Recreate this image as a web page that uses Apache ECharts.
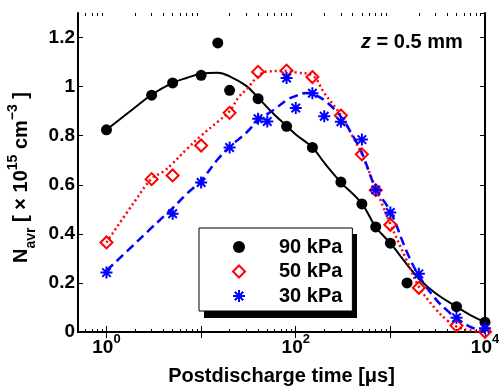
<!DOCTYPE html>
<html><head><meta charset="utf-8">
<script src="https://cdn.jsdelivr.net/npm/echarts@6/dist/echarts.min.js"></script>
<style>html,body{margin:0;padding:0;background:#fff}#c{width:499px;height:386px}</style>
</head><body><div id="c"></div>
<script>
// measured points (time in microseconds, density in 1e15 cm^-3)
const t90 = [1,3,5,10,15,20,40,80,150,300,500,700,1000,1500,5000,10000];
const n90 = [0.824,0.965,1.015,1.046,1.178,0.985,0.951,0.838,0.752,0.611,0.522,0.428,0.362,0.200,0.103,0.040];
const t50 = [1,3,5,10,20,40,80,150,300,500,700,1000,2000,5000,10000];
const n50 = [0.365,0.623,0.638,0.760,0.893,1.060,1.065,1.039,0.882,0.724,0.578,0.437,0.180,0.026,0.001];
const t30 = [1,5,10,20,40,50,80,100,150,200,300,500,700,1000,2000,5000,10000];
const n30 = [0.242,0.482,0.609,0.752,0.869,0.858,1.035,0.913,0.973,0.879,0.857,0.784,0.579,0.487,0.237,0.058,0.015];
// fitted curves
const ft90 = [1,2,3,5,7,10,15,20,30,40,60,80,100,150,200,300,500,700,1000,1500,2000,3000,5000,7000,10000];
const fn90 = [0.824,0.915,0.967,1.015,1.035,1.052,1.056,1.042,1.003,0.955,0.884,0.840,0.805,0.752,0.690,0.610,0.523,0.428,0.362,0.275,0.217,0.158,0.103,0.069,0.040];
const ft50 = [1,2,3,4,5,7,10,15,20,25,30,40,50,80,100,150,200,300,400,500,700,1000,1500,2000,3000,4000,5000,7000,10000];
const fn50 = [0.365,0.534,0.625,0.654,0.687,0.744,0.800,0.857,0.900,0.958,0.988,1.042,1.062,1.064,1.058,1.045,0.974,0.884,0.796,0.725,0.585,0.440,0.289,0.185,0.094,0.047,0.022,0.006,0.0];
const ft30 = [1,2,3,5,7,10,15,20,30,40,60,80,100,130,150,200,300,400,500,700,1000,1500,2000,3000,4000,5000,7000,10000];
const fn30 = [0.250,0.360,0.425,0.505,0.562,0.617,0.704,0.754,0.812,0.862,0.908,0.945,0.962,0.974,0.970,0.945,0.877,0.800,0.730,0.585,0.491,0.325,0.230,0.135,0.087,0.056,0.021,0.0];
const seriesNames = ['90 kPa','50 kPa','30 kPa'];
// axis ticks
const xMajorTicks = [1,10,100,1000,10000];
const xMinorTicks = [0.6,0.7,0.8,0.9,2,3,4,5,6,7,8,9,20,30,40,50,60,70,80,90,200,300,400,500,600,700,800,900,2000,3000,4000,5000,6000,7000,8000,9000];
const xLabelValues = [1,100,10000];
const xLabelExps = ['0','2','4'];

const pairs = (t, n) => t.map((v, i) => [v, n[i]]);
const FONT = "'Liberation Sans', Arial, sans-serif";
const starPath = 'path://M0,-10L0,10M-10,0L10,0M-7.07,-7.07L7.07,7.07M-7.07,7.07L7.07,-7.07';

function xLabelFmt(v) {
  let k = 0, best = 1e9;
  xLabelValues.forEach((x, i) => { const d = Math.abs(Math.log10(x) - Math.log10(v)); if (d < best) { best = d; k = i; } });
  return '{b|10}{s|' + xLabelExps[k] + '}';
}

const wideBounds = { left: -100, top: -100, right: -100, bottom: -100 };
const axisLineStyle = { color: '#000', width: 2 };
const chart = echarts.init(document.getElementById('c'), null, { renderer: 'canvas' });
chart.setOption({
  animation: false,
  backgroundColor: '#fff',
  textStyle: { fontFamily: FONT },
  grid: [
    { left: 78, right: 14, top: 13, bottom: 54, outerBounds: wideBounds },
    { left: 78, right: 14, top: 13, bottom: 54, outerBounds: wideBounds }
  ],
  title: {
    text: '{i|z} = 0.5 mm',
    left: 361, top: 32, padding: 0,
    textStyle: { fontSize: 20, fontWeight: 'bold', color: '#000', fontFamily: FONT,
      rich: { i: { fontSize: 20, fontWeight: 'bold', fontStyle: 'italic', color: '#000', fontFamily: FONT } } }
  },
  graphic: [
    { type: 'rect', z: 50, silent: true, shape: { x: 204, y: 234, width: 153, height: 84 }, style: { fill: '#000' } }
  ],
  xAxis: [
    { gridIndex: 0, type: 'log', logBase: 10, min: 0.5, max: 10000, position: 'bottom',
      axisLine: { show: true, lineStyle: axisLineStyle },
      axisTick: { show: true, inside: true, length: 6, customValues: xMajorTicks, lineStyle: { color: '#000', width: 1 } },
      axisLabel: { show: true, customValues: xLabelValues, margin: 1, formatter: xLabelFmt, color: '#000',
        rich: {
          b: { fontSize: 19, fontWeight: 'bold', color: '#000', fontFamily: FONT, lineHeight: 30 },
          s: { fontSize: 13, fontWeight: 'bold', color: '#000', fontFamily: FONT, lineHeight: 13, verticalAlign: 'top' }
        } },
      splitLine: { show: false }, minorTick: { show: false },
      name: 'Postdischarge time [μs]', nameLocation: 'middle', nameGap: 34,
      nameTextStyle: { fontSize: 20, fontWeight: 'bold', color: '#000', fontFamily: FONT } },
    { gridIndex: 0, type: 'log', logBase: 10, min: 0.5, max: 10000, position: 'top',
      axisLine: { show: true, lineStyle: axisLineStyle },
      axisTick: { show: true, inside: true, length: 6, customValues: xMajorTicks, lineStyle: { color: '#000', width: 1 } },
      axisLabel: { show: false }, splitLine: { show: false } },
    { gridIndex: 1, type: 'log', logBase: 10, min: 0.5, max: 10000, position: 'bottom',
      axisLine: { show: false },
      axisTick: { show: true, inside: true, length: 3, customValues: xMinorTicks, lineStyle: { color: '#000', width: 1 } },
      axisLabel: { show: false }, splitLine: { show: false } },
    { gridIndex: 1, type: 'log', logBase: 10, min: 0.5, max: 10000, position: 'top',
      axisLine: { show: false },
      axisTick: { show: true, inside: true, length: 3, customValues: xMinorTicks, lineStyle: { color: '#000', width: 1 } },
      axisLabel: { show: false }, splitLine: { show: false } }
  ],
  yAxis: [
    { gridIndex: 0, type: 'value', min: 0, max: 1.3, interval: 0.2, position: 'left',
      axisLine: { show: true, lineStyle: axisLineStyle },
      axisTick: { show: true, inside: true, length: 5, lineStyle: { color: '#000', width: 1 } },
      axisLabel: { show: true, margin: 3, showMaxLabel: false, fontSize: 19, fontWeight: 'bold', color: '#000', fontFamily: FONT },
      splitLine: { show: false },
      name: '{n|N}{sub|avr}{n| [ × 10}{sup|15}{n| cm}{sup|−3}{n| ]}',
      nameLocation: 'middle', nameRotate: 90, nameGap: 38,
      nameTextStyle: { fontSize: 20, fontWeight: 'bold', color: '#000', fontFamily: FONT, padding: [0, 10, 0, 0],
        rich: {
          n: { fontSize: 20, fontWeight: 'bold', color: '#000', fontFamily: FONT, lineHeight: 32 },
          sub: { fontSize: 14, fontWeight: 'bold', color: '#000', fontFamily: FONT, lineHeight: 24, verticalAlign: 'bottom' },
          sup: { fontSize: 14, fontWeight: 'bold', color: '#000', fontFamily: FONT, lineHeight: 14, verticalAlign: 'top' }
        } } },
    { gridIndex: 0, type: 'value', min: 0, max: 1.3, interval: 0.2, position: 'right',
      axisLine: { show: true, lineStyle: axisLineStyle },
      axisTick: { show: true, inside: true, length: 5, lineStyle: { color: '#000', width: 1 } },
      axisLabel: { show: false }, splitLine: { show: false } },
    { gridIndex: 1, type: 'value', min: 0, max: 1.3, show: false, splitLine: { show: false } }
  ],
  legend: {
    data: seriesNames, z: 60,
    orient: 'vertical', left: 199, top: 228,
    padding: [9, 10, 5, 33], itemGap: 4.5, itemWidth: 12, itemHeight: 12,
    selectedMode: false,
    backgroundColor: '#fff', borderColor: '#000', borderWidth: 1, borderRadius: 0,
    textStyle: { fontSize: 20, fontWeight: 'bold', color: '#000', fontFamily: FONT, lineHeight: 20, padding: [0, 0, 0, 29] }
  },
  series: [
    { name: 'fit90', type: 'line', xAxisIndex: 0, yAxisIndex: 0, data: pairs(ft90, fn90), smooth: 0.4,
      showSymbol: false, symbol: 'none', lineStyle: { color: '#000', width: 2 }, z: 2 },
    { name: 'fit50', type: 'line', xAxisIndex: 0, yAxisIndex: 0, data: pairs(ft50, fn50), smooth: 0.4,
      showSymbol: false, symbol: 'none', lineStyle: { color: '#ff0000', width: 2.5, type: [2, 3] }, z: 2 },
    { name: 'fit30', type: 'line', xAxisIndex: 0, yAxisIndex: 0, data: pairs(ft30, fn30), smooth: 0.4,
      showSymbol: false, symbol: 'none', lineStyle: { color: '#0000ff', width: 2.5, type: [9, 5] }, z: 2 },
    { name: seriesNames[0], type: 'scatter', xAxisIndex: 0, yAxisIndex: 0, data: pairs(t90, n90), clip: false,
      symbol: 'circle', symbolSize: 11, itemStyle: { color: '#000', opacity: 1 }, z: 3 },
    { name: seriesNames[1], type: 'scatter', xAxisIndex: 0, yAxisIndex: 0, data: pairs(t50, n50), clip: false,
      symbol: 'diamond', symbolSize: 12, itemStyle: { color: 'rgba(0,0,0,0)', borderColor: '#ff0000', borderWidth: 2, opacity: 1 }, z: 3 },
    { name: seriesNames[2], type: 'scatter', xAxisIndex: 0, yAxisIndex: 0, data: pairs(t30, n30), clip: false,
      symbol: starPath, symbolSize: 12, itemStyle: { color: '#0000ff', borderColor: '#0000ff', borderWidth: 2, opacity: 1 }, z: 3 }
  ]
});
</script>
</body></html>
